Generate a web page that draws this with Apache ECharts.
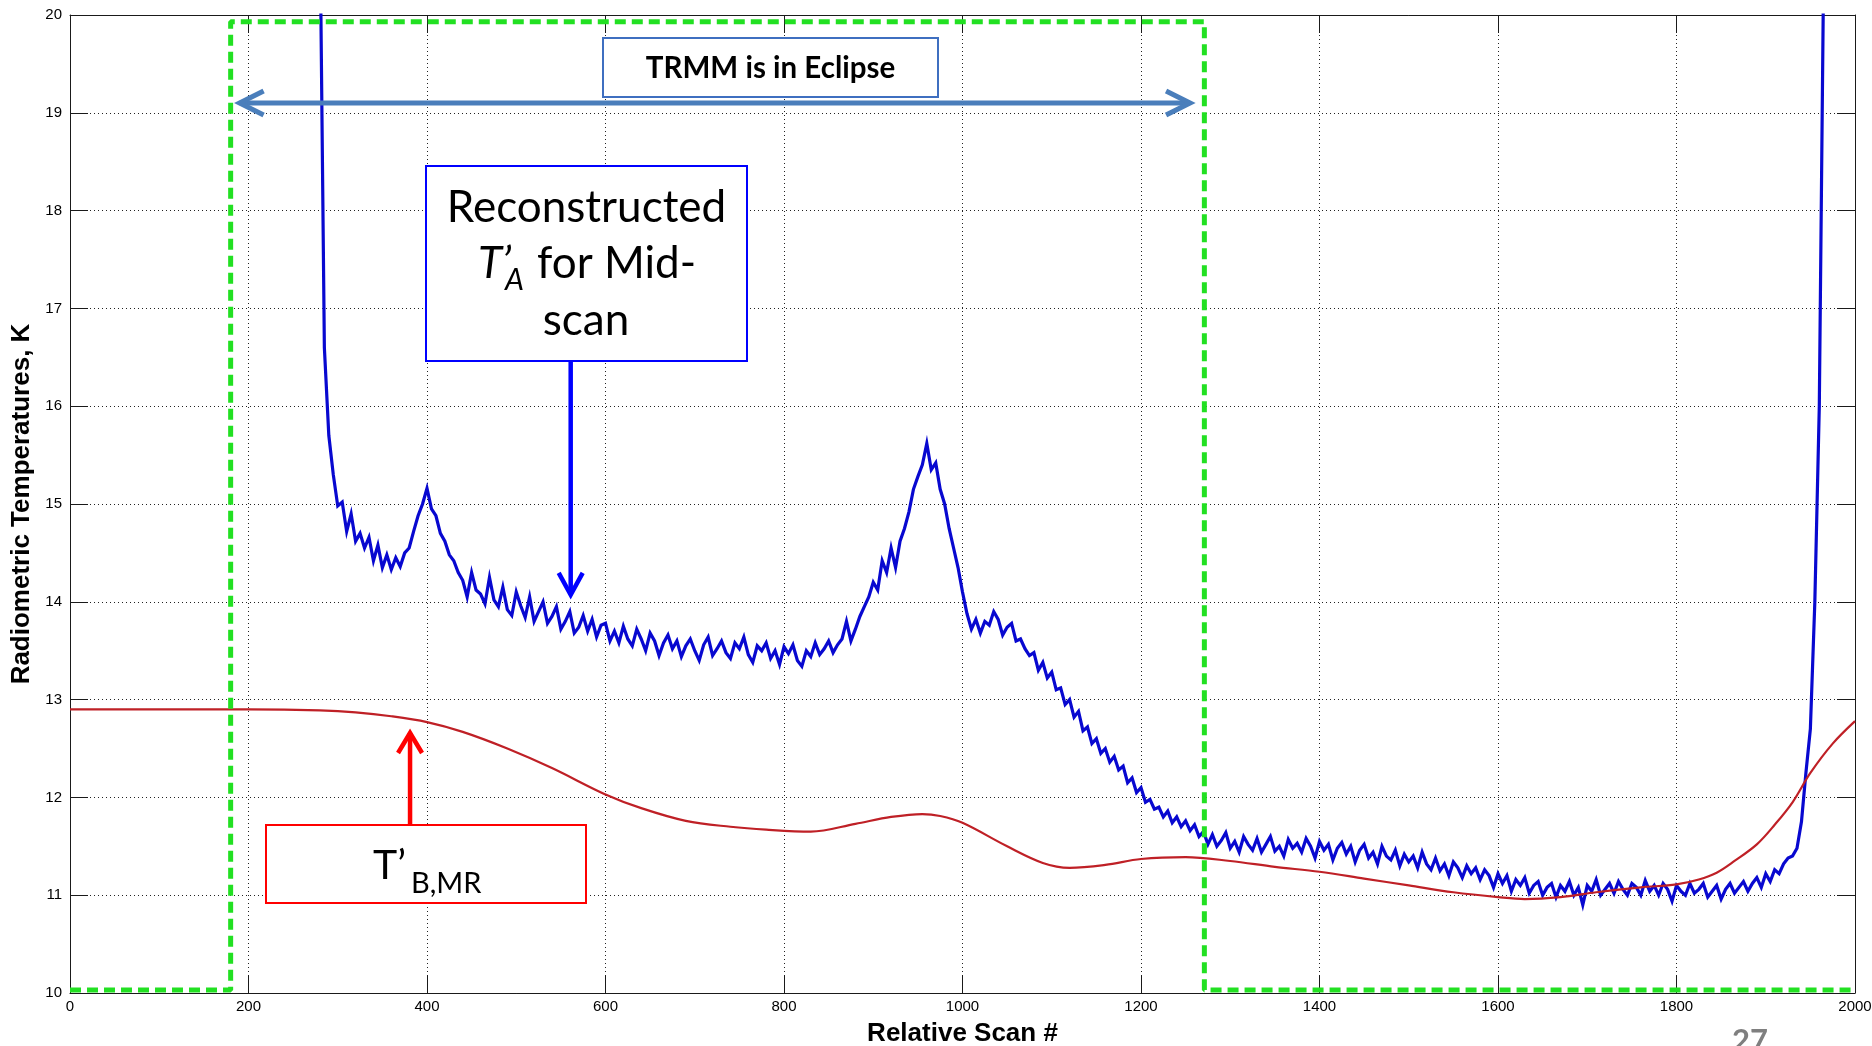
<!DOCTYPE html>
<html>
<head>
<meta charset="utf-8">
<title>TRMM eclipse — reconstructed T'A</title>
<script src="https://cdn.jsdelivr.net/npm/echarts@6/dist/echarts.min.js"></script>
<style>
  html, body { margin: 0; padding: 0; background: #ffffff; }
  #chart { width: 1872px; height: 1046px; }
</style>
</head>
<body>
<div id="chart"></div>
<script>
// Reconstructed mid-scan antenna temperature T'A (K), one sample every 5 scans starting at scan 280
const taScanStart = 280;
const taScanStep = 5;
const taMidScan = [
  21.0, 16.6, 15.7, 15.3, 14.98, 15.02, 14.72, 14.9, 14.62, 14.7,
  14.55, 14.66, 14.42, 14.58, 14.35, 14.48, 14.33, 14.45, 14.36, 14.5,
  14.55, 14.72, 14.88, 15.0, 15.16, 14.95, 14.88, 14.7, 14.62, 14.48,
  14.42, 14.3, 14.22, 14.05, 14.3, 14.12, 14.08, 13.98, 14.25, 14.02,
  13.95, 14.15, 13.92, 13.86, 14.1, 13.96, 13.84, 14.05, 13.8, 13.9,
  14.0, 13.78, 13.85, 13.95, 13.72, 13.8, 13.9, 13.68, 13.74, 13.86,
  13.7, 13.82, 13.64, 13.76, 13.78, 13.6, 13.7, 13.58, 13.75, 13.62,
  13.55, 13.72, 13.62, 13.5, 13.68, 13.6, 13.45, 13.58, 13.66, 13.52,
  13.6, 13.44, 13.55, 13.62, 13.5, 13.4, 13.56, 13.64, 13.45, 13.52,
  13.6, 13.48, 13.42, 13.58, 13.52, 13.64, 13.46, 13.38, 13.55, 13.5,
  13.58, 13.42, 13.5, 13.36, 13.54, 13.47, 13.56, 13.4, 13.34, 13.5,
  13.44, 13.58, 13.46, 13.52, 13.6, 13.48, 13.56, 13.62, 13.8, 13.6,
  13.72, 13.85, 13.95, 14.05, 14.2, 14.12, 14.42, 14.3, 14.55, 14.35,
  14.62, 14.75, 14.92, 15.15, 15.28, 15.4, 15.62, 15.35, 15.42, 15.15,
  15.0, 14.75, 14.55, 14.35, 14.1, 13.88, 13.72, 13.82, 13.68, 13.8,
  13.76, 13.9, 13.82, 13.66, 13.74, 13.78, 13.6, 13.62, 13.52, 13.45,
  13.48, 13.3, 13.38, 13.22, 13.28, 13.1, 13.12, 12.95, 13.0, 12.82,
  12.88, 12.68, 12.72, 12.55, 12.6, 12.45, 12.5, 12.36, 12.42, 12.28,
  12.32, 12.15, 12.2, 12.05, 12.1, 11.95, 11.98, 11.88, 11.9, 11.8,
  11.86, 11.74, 11.8, 11.7, 11.76, 11.66, 11.72, 11.6, 11.65, 11.52,
  11.62, 11.5, 11.56, 11.64, 11.48, 11.55, 11.44, 11.6, 11.52, 11.46,
  11.58, 11.44, 11.52, 11.6, 11.45, 11.5, 11.4, 11.57, 11.48, 11.53,
  11.44, 11.58, 11.5, 11.38, 11.55, 11.46, 11.52, 11.36, 11.48, 11.54,
  11.42, 11.5, 11.34, 11.46, 11.52, 11.38, 11.44, 11.32, 11.5, 11.4,
  11.36, 11.46, 11.3, 11.42, 11.34, 11.4, 11.28, 11.44, 11.32, 11.26,
  11.38, 11.25, 11.32, 11.2, 11.34, 11.28, 11.18, 11.3, 11.22, 11.28,
  11.16, 11.26, 11.2, 11.08, 11.22, 11.12, 11.2, 11.04, 11.16, 11.1,
  11.18, 11.02, 11.1, 11.14, 11.0, 11.08, 11.12, 10.98, 11.1, 11.04,
  11.14, 11.0, 11.08, 10.9, 11.1, 11.04, 11.16, 11.0, 11.06, 11.12,
  11.02, 11.14, 11.06, 11.0, 11.12, 11.08, 11.0, 11.15, 11.04, 11.1,
  11.0, 11.12, 11.06, 10.94, 11.1, 11.04, 11.0, 11.12, 11.02, 11.06,
  11.12, 10.98, 11.04, 11.1, 10.96, 11.06, 11.12, 11.02, 11.08, 11.14,
  11.04, 11.12, 11.18, 11.08, 11.22, 11.14, 11.26, 11.22, 11.32, 11.38,
  11.4, 11.48, 11.75, 12.25, 12.7, 14.0, 16.0, 20.6
];

// Modelled T'B,MR (K)
const tbScan = [0, 200, 280, 320, 360, 400, 440, 490, 540, 600, 640, 690, 740, 780, 830, 880, 920, 955, 975, 1000,
  1050, 1090, 1120, 1160, 1200, 1250, 1300, 1350, 1400, 1450, 1500, 1550, 1600, 1630, 1670, 1710, 1760, 1800,
  1825, 1845, 1865, 1890, 1910, 1930, 1950, 1975, 2000];
const tbTemp = [12.9, 12.9, 12.89, 12.87, 12.83, 12.77, 12.67, 12.5, 12.3, 12.03, 11.89, 11.76, 11.7, 11.67, 11.65, 11.73, 11.8, 11.83, 11.81, 11.74,
  11.5, 11.33, 11.28, 11.31, 11.37, 11.39, 11.35, 11.29, 11.24, 11.17, 11.1, 11.03, 10.98, 10.96, 10.98, 11.03, 11.08, 11.11,
  11.16, 11.23, 11.35, 11.52, 11.72, 11.95, 12.25, 12.55, 12.78];

// Eclipse window outline (scan #, K)
const eclipseScan = [0, 180, 180, 1271, 1271, 2000];
const eclipseLevel = [10.03, 10.03, 19.93, 19.93, 10.03, 10.03];

// Axis ranges: [min, max, step]
const scanRange = [0, 2000, 200];
const tempRange = [10, 20, 1];

// Annotation arrows in data units: [scan, K]
const eclipseSpan = [[185, 19.1], [1260, 19.1]];
const taPointer = [[561, 16.46], [561, 14.03]];
const tbPointer = [[381, 11.72], [381, 12.70]];

const taSeries = taMidScan.map((v, i) => [taScanStart + i * taScanStep, v]);
const tbSeries = tbScan.map((s, i) => [s, tbTemp[i]]);
const eclipseSeries = eclipseScan.map((s, i) => [s, eclipseLevel[i]]);

const axisFont = '"Liberation Sans", Arial, sans-serif';
const noteFont = 'Lato, "Open Sans", sans-serif';
const axisColor = '#1a1a1a';

function frameAxis(base, extra) {
  return Object.assign({
    type: 'value',
    axisLine: { show: true, onZero: false, lineStyle: { color: axisColor, width: 1 } },
    axisTick: { show: true, inside: true, length: 18, lineStyle: { color: axisColor, width: 1 } }
  }, base, extra);
}

const xBase = { min: scanRange[0], max: scanRange[1], interval: scanRange[2] };
const yBase = { min: tempRange[0], max: tempRange[1], interval: tempRange[2] };
const plain = (v) => String(v);

const chart = echarts.init(document.getElementById('chart'), null, { renderer: 'canvas' });

chart.setOption({
  animation: false,
  backgroundColor: '#ffffff',
  grid: { left: 70, right: 17, top: 15, bottom: 53, containLabel: false, outerBoundsMode: 'none' },
  xAxis: [
    frameAxis(xBase, {
      position: 'bottom',
      name: 'Relative Scan #',
      nameLocation: 'middle',
      nameGap: 28,
      nameTextStyle: { fontFamily: axisFont, fontWeight: 'bold', fontSize: 26, color: '#000' },
      axisLabel: { fontFamily: axisFont, fontSize: 15, color: '#000', margin: 6, formatter: plain },
      splitLine: { show: true, lineStyle: { color: '#222', type: [1, 3], width: 1 } }
    }),
    frameAxis(xBase, {
      position: 'top',
      axisLabel: { show: false },
      splitLine: { show: false }
    })
  ],
  yAxis: [
    frameAxis(yBase, {
      position: 'left',
      name: 'Radiometric Temperatures, K',
      nameLocation: 'middle',
      nameGap: 29,
      nameTextStyle: { fontFamily: axisFont, fontWeight: 'bold', fontSize: 26, color: '#000' },
      axisLabel: { fontFamily: axisFont, fontSize: 15, color: '#000', margin: 8, formatter: plain },
      splitLine: { show: true, lineStyle: { color: '#222', type: [1, 3], width: 1 } }
    }),
    frameAxis(yBase, {
      position: 'right',
      axisLabel: { show: false },
      splitLine: { show: false }
    })
  ],
  series: [
    {
      name: "Reconstructed T'A",
      type: 'line',
      data: taSeries,
      showSymbol: false,
      clip: true,
      lineStyle: { color: '#0808d0', width: 3.2, join: 'miter' },
      z: 3
    },
    {
      name: "T'B,MR",
      type: 'line',
      data: tbSeries,
      smooth: 0.35,
      showSymbol: false,
      clip: true,
      lineStyle: { color: '#bf2026', width: 2.2 },
      z: 4
    },
    {
      name: 'Eclipse',
      type: 'line',
      data: eclipseSeries,
      showSymbol: false,
      clip: true,
      lineStyle: { color: '#22e022', width: 5, type: [11, 6], cap: 'butt' },
      z: 5
    }
  ]
});

const toPx = (p) => chart.convertToPixel({ seriesIndex: 0 }, p);

// Shaft plus open chevron head(s) for an arrow between two data points
function arrow(pair, color, width, headLen, headHalf, bothEnds) {
  const a = toPx(pair[0]);
  const b = toPx(pair[1]);
  const L = Math.hypot(b[0] - a[0], b[1] - a[1]);
  const ux = (b[0] - a[0]) / L, uy = (b[1] - a[1]) / L;
  const nx = -uy, ny = ux;
  const inset = width * 0.9;
  const head = (tip, dx, dy) => {
    const t = [tip[0] - dx * inset, tip[1] - dy * inset];
    return {
      type: 'polyline',
      z: 100,
      shape: { points: [
        [t[0] - dx * headLen + nx * headHalf, t[1] - dy * headLen + ny * headHalf],
        t,
        [t[0] - dx * headLen - nx * headHalf, t[1] - dy * headLen - ny * headHalf]
      ] },
      style: { stroke: color, lineWidth: width, fill: null, lineJoin: 'miter', lineCap: 'butt' }
    };
  };
  const s0 = bothEnds ? [a[0] + ux * inset, a[1] + uy * inset] : a;
  const s1 = [b[0] - ux * inset, b[1] - uy * inset];
  const out = [{
    type: 'line', z: 100,
    shape: { x1: s0[0], y1: s0[1], x2: s1[0], y2: s1[1] },
    style: { stroke: color, lineWidth: width, lineCap: 'butt' }
  }, head(b, ux, uy)];
  if (bothEnds) out.push(head(a, -ux, -uy));
  return out;
}

function box(x, y, w, h, color) {
  return {
    type: 'rect', z: 100,
    shape: { x: x, y: y, width: w, height: h },
    style: { fill: '#ffffff', stroke: color, lineWidth: 2 }
  };
}

function label(text, x, y, size, opts) {
  const o = opts || {};
  return {
    type: 'text', z: 101, x: x, y: y,
    style: {
      text: text,
      fontFamily: o.family || noteFont,
      fontSize: size,
      fontWeight: o.weight || 'normal',
      fontStyle: o.style || 'normal',
      fill: o.color || '#000000',
      align: o.align || 'left',
      textAlign: o.align || 'left',
      verticalAlign: 'middle',
      textVerticalAlign: 'middle'
    }
  };
}

const graphics = [].concat(
  arrow(eclipseSpan, '#4a7ebb', 5, 24, 12, true),
  arrow(taPointer, '#0000ff', 4.5, 22, 12, false),
  arrow(tbPointer, '#ff0000', 4.5, 20, 12, false),
  [
    box(603, 38, 335, 59, '#3f6fc0'),
    label('TRMM is in Eclipse', 770.5, 68.5, 29.5, { weight: 'bold', align: 'center' }),

    box(426, 166, 321, 195, '#0000ff'),
    label('Reconstructed', 586.5, 207.5, 44, { align: 'center' }),
    label('T\u2019', 478, 263.5, 44, { style: 'italic' }),
    label('A', 505, 280, 30, { style: 'italic' }),
    label('for Mid-', 537, 263.5, 44),
    label('scan', 586, 321, 44, { align: 'center' }),

    box(266, 825, 320, 78, '#ff0000'),
    label('T\u2019', 373, 866, 41),
    label('B,MR', 411, 884, 29),

    label('27', 1732, 1041, 31, { weight: 'bold', color: '#7f7f7f' })
  ]
);

chart.setOption({ graphic: graphics });
</script>
</body>
</html>
